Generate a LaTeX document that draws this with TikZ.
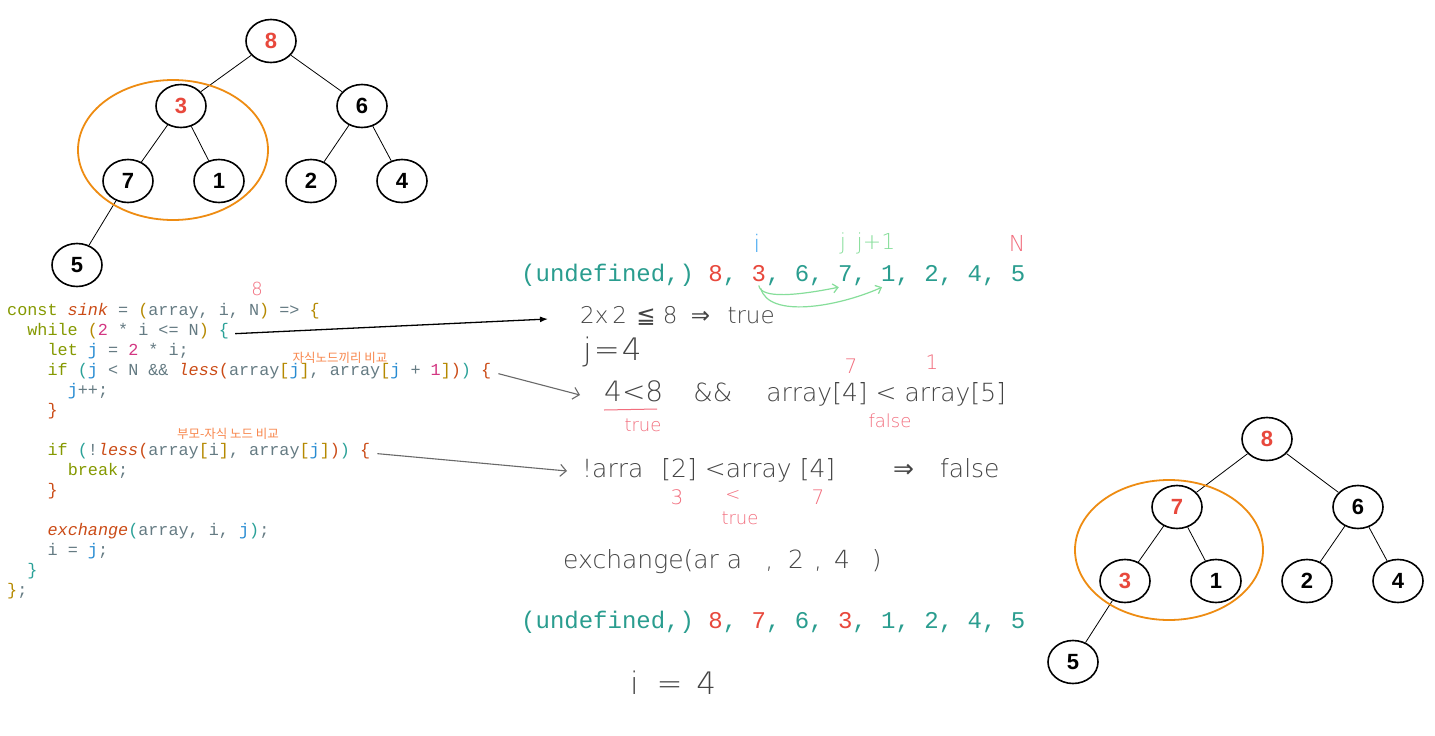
\documentclass[tikz,border=0pt]{standalone}
\usepackage{fontspec}
\setmainfont{DejaVu Sans}
\newfontfamily\handfont{DejaVu Sans ExtraLight}
\newfontfamily\symfont{DejaVu Sans}
\newfontfamily\codefont{Liberation Mono}
\newfontfamily\treefont{Liberation Sans}
\newfontfamily\krfont{Noto Sans CJK KR}
\usetikzlibrary{arrows.meta,shapes.geometric}
\definecolor{ckw}{HTML}{859900}
\definecolor{cfn}{HTML}{CB4B16}
\definecolor{cyel}{HTML}{B58900}
\definecolor{ccyan}{HTML}{2AA198}
\definecolor{cblue}{HTML}{268BD2}
\definecolor{cmag}{HTML}{D33682}
\definecolor{cgray}{HTML}{657B83}
\definecolor{rowteal}{HTML}{2A9D8F}
\definecolor{hred}{HTML}{E8483C}
\definecolor{hgray}{HTML}{444444}
\definecolor{hpink}{HTML}{F26D7D}
\definecolor{hgreen}{HTML}{86DE9A}
\definecolor{hblue}{HTML}{3BA3F0}
\definecolor{korange}{HTML}{F8874D}
\definecolor{hlorange}{HTML}{EE8C12}
\newcommand\Kw[1]{\textcolor{ckw}{#1}}
\newcommand\Fn[1]{\textcolor{cfn}{\itshape #1}}
\newcommand\Or[1]{\textcolor{cfn}{#1}}
\newcommand\Yl[1]{\textcolor{cyel}{#1}}
\newcommand\Cy[1]{\textcolor{ccyan}{#1}}
\newcommand\Bl[1]{\textcolor{cblue}{#1}}
\newcommand\Mg[1]{\textcolor{cmag}{#1}}
\newcommand\Sy[1]{{\symfont\color{hgray}#1}}

\begin{document}
\begin{tikzpicture}[x=1pt,y=-1pt,
    tn/.style={ellipse,draw,line width=1.6pt,minimum width=50pt,minimum height=43pt,
      inner sep=0pt,font=\treefont\bfseries\fontsize{22}{22}\selectfont},
    edge/.style={line width=0.8pt},
    hl/.style={draw=hlorange,line width=1.8pt},
    code/.style={anchor=base west,inner sep=0pt,text=cgray,font=\codefont\fontsize{16.8}{20}\selectfont},
    arow/.style={anchor=base west,inner sep=0pt,text=rowteal,font=\codefont\fontsize{24}{24}\selectfont},
    hand/.style={anchor=west,inner sep=0pt,text=hgray,font=\handfont\fontsize{25}{25}\selectfont},
    note/.style={inner sep=0pt,text=hpink,font=\handfont\fontsize{18}{18}\selectfont},
    kr/.style={inner sep=0pt,text=korange,font=\krfont\fontsize{12.5}{13}\selectfont},
    garr/.style={draw=hgreen,line width=1.2pt,-{Straight Barb[length=5pt,width=9pt]}},
    parr/.style={draw=hgray!80,line width=1.1pt,-{Straight Barb[length=6pt,width=12pt]}}]
  \useasboundingbox (0,0) rectangle (1435,736);
  \fill[white] (0,0) rectangle (1435,736);

  % heap before sink
  \foreach \i/\x/\y/\v/\c in {1/271/41/8/hred,2/181/106/3/hred,3/362/106/6/black,4/128/181/7/black,
      5/219/181/1/black,6/311/181/2/black,7/402/181/4/black,8/77/265/5/black}
    \node[tn,text=\c] (l\i) at (\x,\y) {\v};
  \foreach \p/\q in {1/2,1/3,2/4,2/5,3/6,3/7,4/8} \draw[edge] (l\p) -- (l\q);
  \draw[hl] (173,150) ellipse [x radius=95,y radius=70];

  % heap after exchange
  \foreach \i/\x/\y/\v/\c in {1/1267/439/8/hred,2/1177/507/7/hred,3/1358/507/6/black,4/1125/581/3/hred,
      5/1216/581/1/black,6/1307/581/2/black,7/1398/581/4/black,8/1073/662/5/black}
    \node[tn,text=\c] (r\i) at (\x,\y) {\v};
  \foreach \p/\q in {1/2,1/3,2/4,2/5,3/6,3/7,4/8} \draw[edge] (r\p) -- (r\q);
  \draw[hl] (1169,550) ellipse [x radius=94,y radius=70];

  % code
  \node[code] (c1) at (7,315) {\Kw{const} \Fn{sink} = \Yl{(}array, i, N\Yl{)} => \Yl{\{}};
  \node[code] (c2) at (27.2,335) {\Kw{while} \Yl{(}\Mg{2} * i <= N\Yl{)} \Cy{\{}};
  \node[code] (c3) at (47.4,355) {\Kw{let} \Bl{j} = \Mg{2} * i;};
  \node[code] (c4) at (47.4,375) {\Kw{if} \Cy{(}\Bl{j} < N \&\& \Fn{less}\Or{(}array\Yl{[}\Bl{j}\Yl{]}, array\Yl{[}\Bl{j} + \Mg{1}\Yl{]}\Or{)}\Cy{)} \Or{\{}};
  \node[code] (c5) at (67.6,395) {\Bl{j}++;};
  \node[code] (c6) at (47.4,415) {\Or{\}}};
  \node[code] (c8) at (47.4,455) {\Kw{if} \Cy{(}!\Fn{less}\Or{(}array\Yl{[}i\Yl{]}, array\Yl{[}\Bl{j}\Yl{]}\Or{)}\Cy{)} \Or{\{}};
  \node[code] (c9) at (67.6,475) {\Kw{break};};
  \node[code] (c10) at (47.4,495) {\Or{\}}};
  \node[code] (c12) at (47.4,535) {\Fn{exchange}\Cy{(}array, i, \Bl{j}\Cy{)};};
  \node[code] (c13) at (47.4,555) {i = \Bl{j};};
  \node[code] (c14) at (27.2,575) {\Cy{\}}};
  \node[code] (c15) at (7,595) {\Yl{\}};};
  \node[note] (nN) at (257,289) {8};
  \node[kr] (k1) at (340,358) {자식노드끼리 비교};
  \node[kr] (k2) at (228,434) {부모-자식 노드 비교};

  % arrays
  \node[arow] (a1) at (521,281) {(undefined,)};
  \foreach \v/\c [count=\k] in {8/hred,3/hred,6/rowteal,7/rowteal,1/rowteal,2/rowteal,4/rowteal,5/rowteal}
    \node[arow,text=\c] (a1d\k) at (708.2+43.2*\k-43.2,281) {\v};
  \foreach \k in {1,...,7} \node[arow] (a1c\k) at (722.6+43.2*\k-43.2,281) {,};
  \node[arow] (a2) at (521,628) {(undefined,)};
  \foreach \v/\c [count=\k] in {8/hred,7/hred,6/rowteal,3/hred,1/rowteal,2/rowteal,4/rowteal,5/rowteal}
    \node[arow,text=\c] (a2d\k) at (708.2+43.2*\k-43.2,628) {\v};
  \foreach \k in {1,...,7} \node[arow] (a2c\k) at (722.6+43.2*\k-43.2,628) {,};
  \node[note,text=hblue,font=\handfont\fontsize{24}{24}\selectfont] (li) at (757,243) {i};
  \node[note,text=hgreen,font=\handfont\fontsize{22}{22}\selectfont] (lj) at (843,243) {j};
  \node[note,text=hgreen,font=\handfont\fontsize{22}{22}\selectfont] (lj1) at (876,243) {j+1};
  \node[note,font=\handfont\fontsize{22}{22}\selectfont] (lN) at (1017,243) {N};
  \draw[garr] ([yshift=-4pt]a1d2.south) .. controls +(2,14) and +(-40,8) .. ([xshift=1pt,yshift=-6pt]a1d4.south west);
  \draw[garr] ([xshift=2pt,yshift=-7pt]a1d2.south) .. controls +(8,30) and +(-45,20) .. ([xshift=1pt,yshift=-6pt]a1d5.south west);

  % handwritten steps
  \node[hand,font=\handfont\fontsize{23}{23}\selectfont] (h1) at (580,316) {2x\hspace{4pt}2\hspace{2pt} \Sy{≦} 8\hspace{6pt} \Sy{⇒}\hspace{10pt} true};
  \node[hand,font=\handfont\fontsize{31}{31}\selectfont] (h2) at (583,352) {j\hspace{2pt}=\hspace{2pt}4};
  \node[hand] (h3) at (604,393) {\fontsize{28}{28}\selectfont 4<8\fontsize{25}{25}\selectfont\hspace{30pt}\&\&\hspace{34pt}array[4] < array[5]};
  \draw[hpink,line width=1pt] (604,410) -- (657,409);
  \node[note] (t1) at (643,425) {true};
  \node[note,font=\handfont\fontsize{20}{20}\selectfont] (t7) at (851,366) {7};
  \node[note,font=\handfont\fontsize{20}{20}\selectfont] (t1b) at (932,362) {1};
  \node[note] (tf) at (890,421) {false};
  \node[hand] (h4) at (582,470) {!arra\hspace{18pt}[2]\hspace{8pt}<array\hspace{8pt}[4]\hspace{58pt}\Sy{⇒}\hspace{26pt}false};
  \node[note,font=\handfont\fontsize{20}{20}\selectfont] (t3) at (677,497) {3};
  \node[note] (tl) at (733,495) {<};
  \node[note] (tt) at (740,518) {true};
  \node[note,font=\handfont\fontsize{20}{20}\selectfont] (t7b) at (818,497) {7};
  \node[hand] (h5) at (563,562) {exchange(ar a\hspace{23pt},\hspace{15pt}2\hspace{10pt},\hspace{12pt}4\hspace{22pt})};
  \node[hand,font=\handfont\fontsize{31}{31}\selectfont] (h6) at (630,683) {i\hspace{8pt} =\hspace{4pt} 4};

  % links from code to notes
  \draw[line width=1.3pt,-{Latex[length=8pt,width=6pt]}] ([xshift=6pt,yshift=-3pt]c2.east) -- ([xshift=-32pt,yshift=-3pt]h1.west);
  \draw[parr] ([xshift=7pt,yshift=-3pt]c4.east) -- ([xshift=-24pt,yshift=-2pt]h3.west);
  \draw[parr] ([xshift=7pt,yshift=-3pt]c8.east) -- ([xshift=-15pt,yshift=-1pt]h4.west);
\end{tikzpicture}
\end{document}
